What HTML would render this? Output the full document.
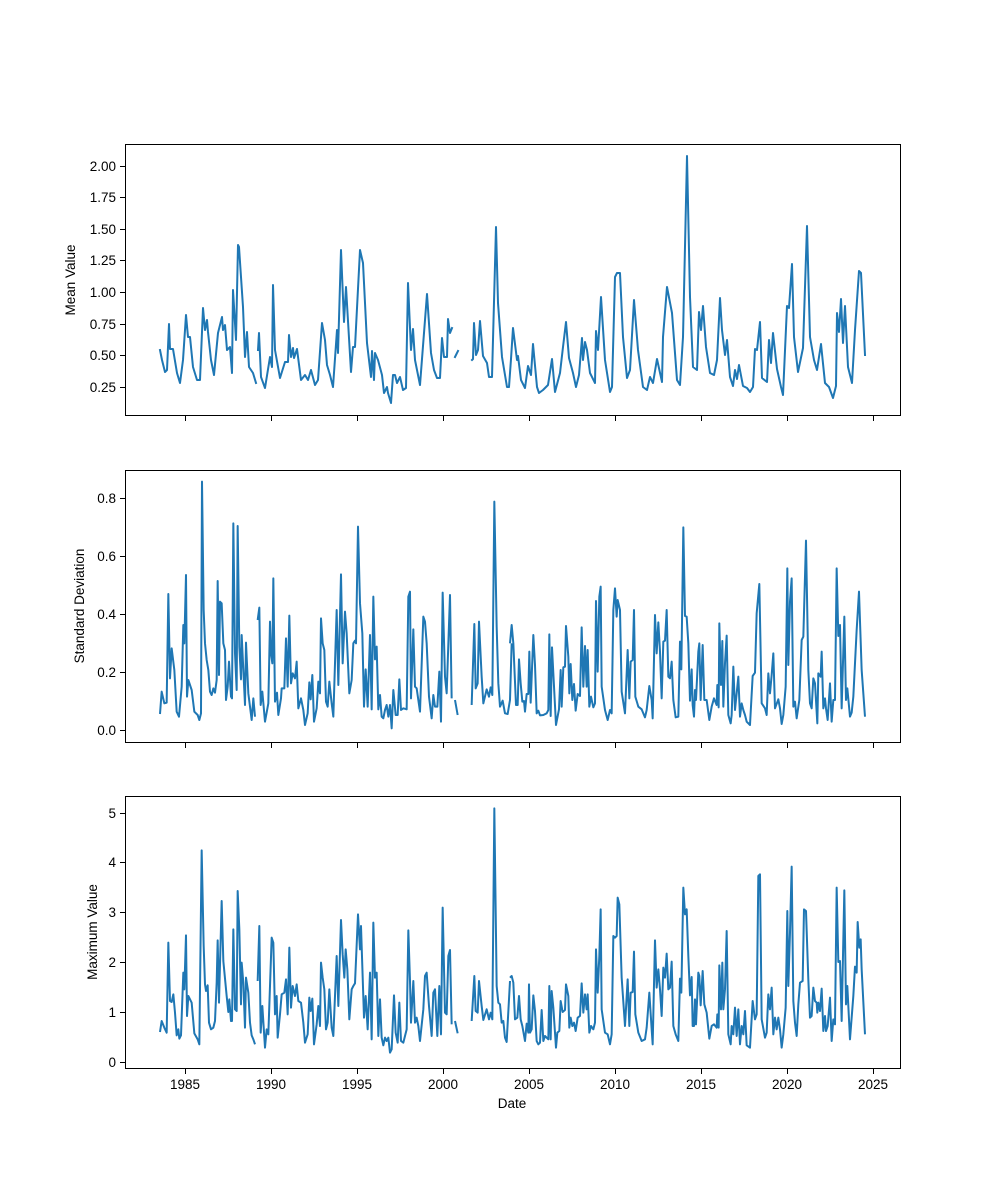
<!DOCTYPE html>
<html><head><meta charset="utf-8"><style>
html,body{margin:0;padding:0;background:#fff;}
svg{display:block;font-family:"Liberation Sans","DejaVu Sans",sans-serif;font-size:13.5px;}
</style></head><body>
<svg width="1000" height="1200" viewBox="0 0 1000 1200" xmlns="http://www.w3.org/2000/svg">
<rect width="1000" height="1200" fill="#fff"/>
<g fill="none" stroke="#1f77b4" stroke-width="2" stroke-linejoin="round" stroke-linecap="square">
<polyline points="160,350 162,360 165,372 167,370 169,324 170,349 173,349 177,373 180,383 183,360 186,315 188,337 190,337 193,367 197,380 200,380 203,308 205,330 207,320 208,332 211,360 214,375 218,333 222,317 223,330 225,325 227,350 230,347 232,373 233,290 236,340 238,245 239,247 243,307 245,357 247,332 249,367 253,373 256,383"/>
<polyline points="258,350 259,333 261,377 265,388 270,357 272,367 273,285 275,350 280,378 285,362 288,362 289,335 291,357 293,348 294,358 297,349 301,380 305,375 308,380 311,370 315,385 318,380 322,323 325,340 327,365 330,375 333,387 337,330 338,353 341,250 344,322 346,287 351,372 353,347 355,347 360,250 363,263 367,343 371,377 372,351 374,380 375,353 378,360 382,375 384,393 387,387 388,393 391,403 393,375 395,375 397,383 400,377 403,390 406,388 408,283 411,350 413,329 415,360 420,385 424,333 427,294 431,353 434,370 437,378 440,378 442,338 444,357 447,357 448,319 450,333 452,328"/>
<polyline points="455,357 458,351"/>
<polyline points="472,360 473,359 474,323 476,355 478,350 480,321 483,356 487,363 489,377 492,377 496,227 498,303 502,357 507,387 509,387 511,359 513,328 517,360 518,356 521,380 525,388 528,366 531,375 533,344 537,387 539,393 543,390 548,385 552,359 555,392 560,373 563,347 566,322 569,358 573,373 576,387 579,375 582,338 583,360 585,342 587,350 590,373 595,383 596,331 598,350 601,297 605,360 610,392 612,387 615,277 617,273 620,273 623,337 627,378 630,370 634,300 638,350 643,387 647,390 650,377 653,383 657,359 662,382 663,337 667,287 672,313 677,380 680,385 683,337 687,156 690,297 693,367 697,370 699,312 701,330 703,306 706,347 710,373 714,375 717,360 720,298 722,330 725,355 727,340 730,377 733,386 735,370 737,379 739,365 743,386 747,388 750,392 753,387 755,349 757,350 760,322 762,378 767,382 769,340 771,363 773,333 777,369 781,387 783,395 787,306 789,308 792,264 794,337 798,372 803,348 807,226 810,337 814,360 817,370 821,344 825,383 829,387 833,398 836,386 837,313 839,332 841,299 843,343 845,306 848,367 852,383 855,330 859,271 861,273 865,355"/>
</g>
<g transform="translate(125,470) scale(0.33333)" fill="none" stroke="#1f77b4" stroke-width="6" stroke-linejoin="round">
<polyline points="105,732 110,665 118,700 125,698 130,372 135,625 140,535 148,600 155,725 162,740 170,650 175,465 178,520 183,315 186,680 190,630 200,660 208,725 218,735 223,750 228,730 231,35 236,420 240,520 245,570 250,600 255,665 260,675 265,655 270,668 275,630 278,333 282,615 285,395 290,400 295,520 300,540 303,690 308,650 312,575 318,680 321,685 325,160 330,550 335,660 338,168 343,530 348,628 350,495 355,600 360,705 363,518 370,670 380,750 385,685 390,740"/>
<polyline points="398,450 403,413 407,705 412,665 420,755 430,700 435,455 438,550 442,580 445,325 450,695 456,668 460,735 468,685 470,655 478,655 483,505 488,650 493,437 498,640 503,610 510,625 515,575 520,715 528,685 535,720 540,765 548,730 553,637 557,688 562,615 567,755 575,715 580,635 585,670 588,445 593,520 598,540 603,695 608,710 613,635 620,700 625,740 635,420 640,645 648,313 653,580 660,425 665,490 673,670 680,630 685,520 690,512 693,520 699,170 705,400 712,490 717,710 722,598 728,710 735,495 740,718 745,380 750,568 755,530 760,718 765,675 770,740 775,745 780,720 785,705 790,740 795,705 800,775 805,660 812,735 818,735 823,628 828,720 835,715 845,718 850,380 855,365 858,685 865,478 870,650 875,655 880,690 885,725 895,440 900,455 905,520 912,680 920,745 925,675 930,710 937,710 943,605 948,755 953,368 960,620 965,670 975,375 980,685"/>
<polyline points="990,690 998,735"/>
<polyline points="1040,705 1048,462 1052,655 1058,640 1062,455 1070,620 1075,700 1085,658 1092,680 1097,652 1102,675 1108,95 1115,470 1120,640 1125,710 1133,692 1140,730 1148,732 1155,690 1160,520"/>
<polyline transform="translate(-23,0)" points="1178,520 1183,465 1188,520 1196,705 1201,705 1205,568 1210,640 1215,695 1220,693 1223,725 1228,672 1233,672 1236,545 1240,698 1248,495 1253,585 1258,730 1263,722 1268,736 1278,735 1288,730 1293,720 1296,493 1300,738 1304,532 1308,610 1316,765 1325,718 1330,600 1333,710 1338,592 1343,590 1346,468 1353,560 1356,670 1360,582 1365,690 1370,642 1375,722 1381,672 1388,678 1393,472 1398,650 1403,528 1408,650 1411,540 1416,710 1421,680 1428,712 1433,700 1436,393 1441,605 1446,380 1450,350 1453,650 1463,720 1471,750 1478,720 1483,730 1488,420 1493,355 1498,440 1501,390 1508,420 1513,665 1523,730 1531,540 1536,685 1540,575 1546,570 1550,420 1554,680 1563,710 1573,718 1583,742 1588,720 1596,648 1603,690 1606,745 1613,435 1618,550 1623,457 1628,545 1633,685 1638,515 1643,512 1648,420 1653,620 1658,625 1663,575 1668,690 1675,742 1683,740 1688,515 1692,598 1698,172 1703,438 1708,440 1713,520 1718,692 1723,598 1726,705 1730,740 1733,660 1736,690 1743,545 1746,520 1750,690 1756,525 1761,690 1768,690 1776,750 1783,710 1790,685 1798,705 1800,645 1804,712 1806,460 1811,645 1815,513 1818,710 1823,580 1828,497 1833,735 1840,760 1843,735 1848,590 1853,720 1863,620 1868,740 1873,700 1878,720 1883,735 1888,755 1898,765 1906,618 1913,608 1918,430 1926,342 1933,700 1943,715 1948,735 1953,610 1958,670 1963,615 1968,550 1973,715 1983,688 1988,715 1993,762 1998,735 2005,650 2010,295 2013,585 2018,395 2023,325 2028,710 2033,695 2038,745 2046,690 2053,510 2058,500 2066,212 2073,600 2078,700 2083,715 2088,625 2093,640 2100,760 2103,610 2110,620 2113,545 2118,715 2123,685 2126,715 2131,750 2138,640 2143,755 2148,690 2153,690 2158,295 2163,498 2168,465 2173,715 2181,440 2186,690 2190,655 2198,740 2203,728 2208,680 2218,480 2225,365 2233,600 2243,740"/>
</g>
<g transform="translate(125,796) scale(0.33333)" fill="none" stroke="#1f77b4" stroke-width="6" stroke-linejoin="round">
<polyline points="105,708 110,675 118,695 125,710 130,440 135,615 140,618 145,595 150,650 155,718 160,700 163,728 168,718 175,530 178,580 183,418 186,660 190,600 200,620 208,712 218,730 223,745 230,163 236,450 240,565 243,585 248,568 252,680 258,700 265,695 270,675 275,560 278,433 282,620 290,315 295,495 305,600 310,648 313,610 318,675 321,675 325,400 330,640 335,645 338,285 343,400 348,625 350,500 355,560 360,695 363,545 370,590 375,680 380,718 385,730 390,745"/>
<polyline points="398,555 403,390 407,710 412,630 420,755 425,700 430,715 440,425 445,440 450,655 455,600 458,725 465,655 470,595 478,590 483,550 488,655 493,455 498,635 503,570 510,600 515,565 520,615 528,620 535,680 540,740 548,715 553,605 557,645 562,608 567,745 575,685 580,630 585,690 588,500 593,545 598,580 603,700 608,680 613,580 620,695 625,720 635,480 640,630 648,372 653,475 658,545 662,460 667,520 673,670 680,580 685,570 690,562 699,355 705,460 708,390 717,665 722,600 728,700 735,530 740,730 745,380 750,545 755,530 760,720 765,610 770,725 775,748 780,725 785,735 790,725 795,770 800,760 807,598 812,710 818,740 823,620 828,735 835,740 845,700 850,403 855,555 858,680 865,555 870,680 875,665 880,690 885,735 895,640 900,540 905,530 912,630 920,720 925,590 930,580 937,720 943,570 948,715 953,335 960,650 965,655 970,480 975,462 980,685"/>
<polyline points="990,675 998,712"/>
<polyline points="1040,675 1048,540 1052,645 1058,650 1062,555 1070,630 1075,672 1085,640 1092,670 1097,650 1102,670 1108,37 1115,570 1120,620 1125,625 1130,680 1135,675 1140,725 1145,738 1155,555"/>
<polyline transform="translate(-18,0)" points="1173,545 1178,540 1183,560 1188,670 1195,665 1200,600 1205,670 1210,690 1215,718 1218,735 1223,683 1228,710 1230,565 1233,710 1238,700 1243,598 1248,645 1253,735 1258,745 1263,740 1268,642 1273,735 1278,720 1288,730 1291,570 1295,730 1298,585 1303,635 1311,755 1315,710 1321,705 1325,615 1331,648 1338,642 1341,565 1348,600 1351,695 1355,665 1360,690 1365,680 1370,705 1376,665 1383,660 1388,562 1393,650 1398,595 1403,640 1406,595 1411,710 1416,690 1423,700 1428,680 1431,460 1436,590 1441,480 1445,340 1448,640 1458,710 1466,715 1473,745 1478,715 1483,420 1488,425 1493,420 1496,305 1501,325 1508,545 1518,690 1526,550 1531,690 1535,590 1541,588 1545,467 1549,655 1558,710 1568,735 1578,730 1583,695 1591,590 1598,700 1601,745 1608,433 1613,575 1618,520 1623,580 1628,660 1633,515 1638,545 1643,473 1648,580 1653,575 1658,497 1663,690 1670,715 1678,735 1683,548 1687,590 1693,275 1698,355 1703,340 1708,480 1713,598 1718,543 1721,690 1725,690 1728,610 1731,685 1738,530 1741,540 1745,628 1751,525 1756,625 1763,650 1771,728 1778,690 1785,685 1793,695 1795,655 1799,695 1801,508 1806,640 1810,500 1813,640 1818,580 1823,405 1828,715 1835,745 1838,690 1843,715 1848,635 1853,720 1858,640 1863,745 1868,690 1873,715 1878,645 1883,748 1893,755 1901,615 1908,670 1913,655 1918,240 1923,235 1928,670 1938,725 1943,710 1948,595 1953,640 1958,575 1963,715 1968,665 1973,700 1978,665 1983,700 1988,755 1993,715 2000,635 2005,345 2008,570 2013,410 2018,212 2023,615 2028,680 2033,720 2038,625 2043,560 2051,555 2055,340 2061,345 2068,550 2073,665 2078,660 2083,575 2088,615 2093,620 2095,650 2098,620 2103,645 2108,578 2113,705 2118,660 2121,705 2126,690 2133,605 2138,735 2143,670 2148,685 2153,275 2158,498 2163,495 2168,675 2176,283 2181,625 2185,570 2193,730 2203,600 2208,512 2213,530 2216,378 2221,455 2225,430 2228,520 2238,715"/>
</g>
<g fill="none" stroke="#000" stroke-width="1">
<rect x="125.5" y="144.5" width="775" height="271"/>
<rect x="125.5" y="470.5" width="775" height="272"/>
<rect x="125.5" y="796.5" width="775" height="272"/>
</g>
<g stroke="#000" stroke-width="1">
<path d="M185.5,416v5M271.5,416v5M357.5,416v5M443.5,416v5M529.5,416v5M615.5,416v5M701.5,416v5M787.5,416v5M873.5,416v5"/>
<path d="M185.5,743v5M271.5,743v5M357.5,743v5M443.5,743v5M529.5,743v5M615.5,743v5M701.5,743v5M787.5,743v5M873.5,743v5"/>
<path d="M185.5,1069v5M271.5,1069v5M357.5,1069v5M443.5,1069v5M529.5,1069v5M615.5,1069v5M701.5,1069v5M787.5,1069v5M873.5,1069v5"/>
<path d="M125,387.5h-5M125,355.5h-5M125,324.5h-5M125,292.5h-5M125,260.5h-5M125,229.5h-5M125,197.5h-5M125,166.5h-5"/>
<path d="M125,730.5h-5M125,672.5h-5M125,614.5h-5M125,556.5h-5M125,498.5h-5"/>
<path d="M125,1062.5h-5M125,1012.5h-5M125,962.5h-5M125,912.5h-5M125,862.5h-5M125,813.5h-5"/>
</g>
<g fill="#000" text-anchor="end">
<text x="116" y="392">0.25</text><text x="116" y="360">0.50</text><text x="116" y="329">0.75</text><text x="116" y="297">1.00</text><text x="116" y="265">1.25</text><text x="116" y="234">1.50</text><text x="116" y="202">1.75</text><text x="116" y="171">2.00</text>
<text x="116" y="735">0.0</text><text x="116" y="677">0.2</text><text x="116" y="619">0.4</text><text x="116" y="561">0.6</text><text x="116" y="503">0.8</text>
<text x="116" y="1067">0</text><text x="116" y="1017">1</text><text x="116" y="967">2</text><text x="116" y="917">3</text><text x="116" y="867">4</text><text x="116" y="818">5</text>
</g>
<g fill="#000" text-anchor="middle">
<text x="185" y="1089">1985</text><text x="271" y="1089">1990</text><text x="357" y="1089">1995</text><text x="443" y="1089">2000</text><text x="529" y="1089">2005</text><text x="615" y="1089">2010</text><text x="701" y="1089">2015</text><text x="787" y="1089">2020</text><text x="873" y="1089">2025</text>
<text x="512" y="1108">Date</text>
<text transform="translate(75,280) rotate(-90)">Mean Value</text>
<text transform="translate(84,606) rotate(-90)">Standard Deviation</text>
<text transform="translate(97,932) rotate(-90)">Maximum Value</text>
</g>
</svg>
</body></html>
